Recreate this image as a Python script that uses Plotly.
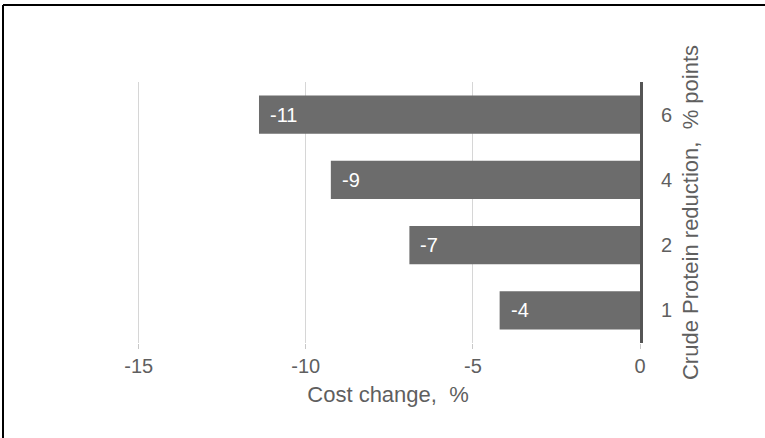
import plotly.graph_objects as go

categories = ["1", "2", "4", "6"]
cost_change = [-4.2, -6.9, -9.25, -11.4]
bar_labels = ["-4", "-7", "-9", "-11"]
x_ticks = [-15, -10, -5, 0]
x_tick_labels = ["-15", "-10", "-5", "0"]

FONT = "Liberation Sans, Arial, sans-serif"
GREY_TXT = "#5f5f5f"

fig = go.Figure()
fig.add_trace(go.Bar(
    x=cost_change, y=categories, orientation="h",
    marker=dict(color="#6c6c6c", line=dict(width=0)),
    hoverinfo="skip",
))

for i, (v, t) in enumerate(zip(cost_change, bar_labels)):
    fig.add_annotation(x=v, y=i, text=t, showarrow=False, xanchor="left",
                       xshift=9, font=dict(family=FONT, size=20, color="white"))

fig.update_layout(
    width=765, height=438,
    margin=dict(l=136, r=125, t=82, b=95),
    paper_bgcolor="white", plot_bgcolor="white",
    showlegend=False, bargap=0.415,
    font=dict(family=FONT, color=GREY_TXT),
    xaxis=dict(
        range=[-15.08, 0], tickvals=x_ticks, ticktext=x_tick_labels,
        showgrid=True, gridcolor="#d6d6d6", gridwidth=1,
        zeroline=False, showline=False,
        ticks="outside", ticklen=5, tickcolor="#c8c8c8",
        tickfont=dict(size=20, color=GREY_TXT),
        title=dict(text="Cost change,  %", font=dict(size=22, color=GREY_TXT), standoff=10),
    ),
    yaxis=dict(
        type="category", categoryorder="array", categoryarray=categories,
        range=[-0.5, len(categories) - 0.5],
        side="right", showgrid=False, zeroline=False,
        showline=True, linecolor="#555555", linewidth=3,
        ticks="", ticklabelstandoff=14,
        tickfont=dict(size=20, color=GREY_TXT),
        title=dict(text="Crude Protein reduction,  % points", font=dict(size=22, color=GREY_TXT), standoff=12),
    ),
)

# outer frame lines (top and left) of the reference screenshot
fig.add_shape(type="line", xref="paper", yref="paper",
              x0=(3 - 136) / 504, x1=(766 - 136) / 504,
              y0=(343 - 5) / 261, y1=(343 - 5) / 261,
              line=dict(color="black", width=2))
fig.add_shape(type="line", xref="paper", yref="paper",
              x0=(3 - 136) / 504, x1=(3 - 136) / 504,
              y0=(343 - 5) / 261, y1=(343 - 440) / 261,
              line=dict(color="black", width=2))

fig.write_html("out.html")
